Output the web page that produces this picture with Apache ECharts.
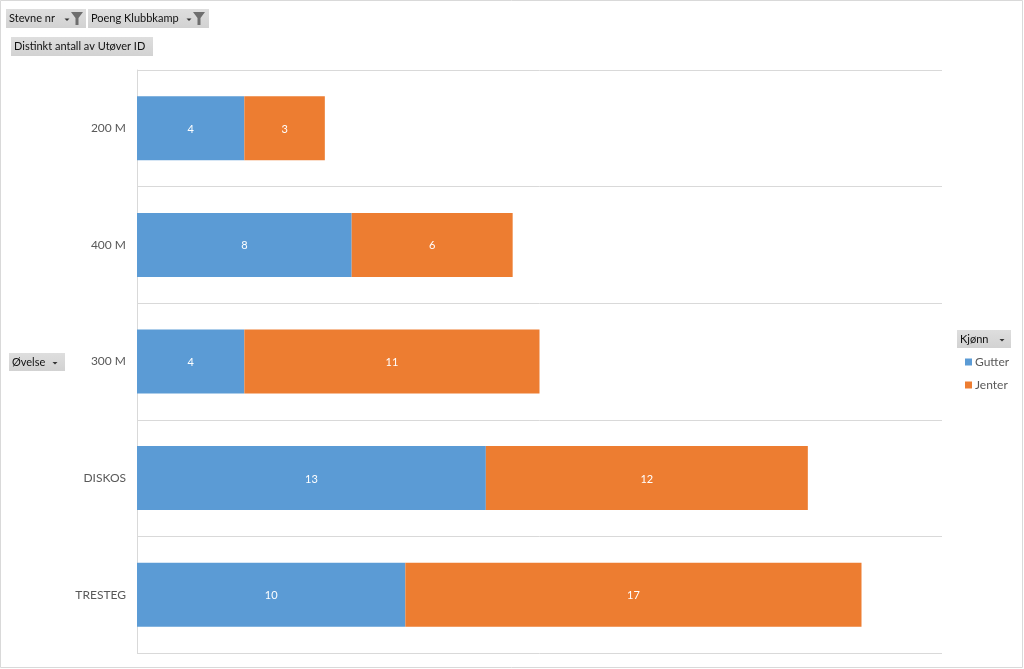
<!DOCTYPE html>
<html><head><meta charset="utf-8">
<script src="https://cdn.jsdelivr.net/npm/echarts@6/dist/echarts.min.js"></script>
<style>html,body{margin:0;padding:0;background:#fff}#c{width:1024px;height:669px}</style>
</head><body><div id="c"></div>
<script>
var categories = ['200 M', '400 M', '300 M', 'DISKOS', 'TRESTEG'];
var gutter = [4, 8, 4, 13, 10];
var jenter = [3, 6, 11, 12, 17];
var seriesNames = ['Gutter', 'Jenter'];

var FONT = 'Lato, "Open Sans", sans-serif';
function button(x, y, w, h, text, arrow, funnel) {
  var ch = [
    {type:'rect', shape:{x:x, y:y, width:w, height:h}, style:{fill:{type:'linear',x:0,y:0,x2:0,y2:1,colorStops:[{offset:0,color:'#dedede'},{offset:1,color:'#d2d2d2'}]}}},
    {type:'text', x:x+3, y:y+h/2, style:{text:text, fill:'#111', font:'11px ' + FONT, textVerticalAlign:'middle'}}
  ];
  if (arrow) ch.push({type:'polygon', shape:{points:[[arrow-2.5,y+h/2],[arrow+2.5,y+h/2],[arrow,y+h/2+2.5]]}, style:{fill:'#333'}});
  if (funnel) ch.push({type:'polygon', shape:{points:[[funnel,y+3],[funnel+12,y+3],[funnel+7.5,y+9],[funnel+7.5,y+16],[funnel+4.5,y+16],[funnel+4.5,y+9]]}, style:{fill:'#6e6e6e'}});
  return {type:'group', children:ch};
}

var chart = echarts.init(document.getElementById('c'));
chart.setOption({
  animation:false,
  backgroundColor:'#fff',
  textStyle:{fontFamily:FONT},
  grid:{left:137, top:70, width:805, height:583, containLabel:false},
  legend:{orient:'vertical', left:960, top:351, itemWidth:7, itemHeight:7, itemGap:11, icon:'rect',
    textStyle:{color:'#595959', fontSize:12, fontFamily:FONT, padding:[0,0,0,-2]}, data:seriesNames},
  xAxis:{type:'value', min:0, max:30, show:false},
  yAxis:{type:'category', inverse:true, data:categories,
    axisLine:{show:true, lineStyle:{color:'#d9d9d9'}}, axisTick:{show:false},
    splitLine:{show:true, lineStyle:{color:'#d9d9d9'}},
    axisLabel:{color:'#595959', fontSize:12, margin:11, fontFamily:FONT}},
  series:[
    {name:seriesNames[0], type:'bar', stack:'t', data:gutter, barWidth:64, itemStyle:{color:'#5B9BD5'},
     label:{show:true, position:'inside', color:'#fff', fontSize:11, fontFamily:FONT, offset:[0,1]}},
    {name:seriesNames[1], type:'bar', stack:'t', data:jenter, barWidth:64, itemStyle:{color:'#ED7D31'},
     label:{show:true, position:'inside', color:'#fff', fontSize:11, fontFamily:FONT, offset:[0,1]}}
  ],
  graphic:[
    {type:'rect', shape:{x:0.5, y:0.5, width:1022, height:667}, style:{fill:'none', stroke:'#d9d9d9'}, silent:true},
    button(6, 9, 80, 19, 'Stevne nr', 67, 71),
    button(88, 9, 121, 19, 'Poeng Klubbkamp', 189, 193),
    button(11, 37, 142, 19, 'Distinkt antall av Utøver ID'),
    button(9, 353, 56, 18, 'Øvelse', 55),
    button(957, 330, 54, 18, 'Kjønn', 1002)
  ]
});
</script></body></html>
